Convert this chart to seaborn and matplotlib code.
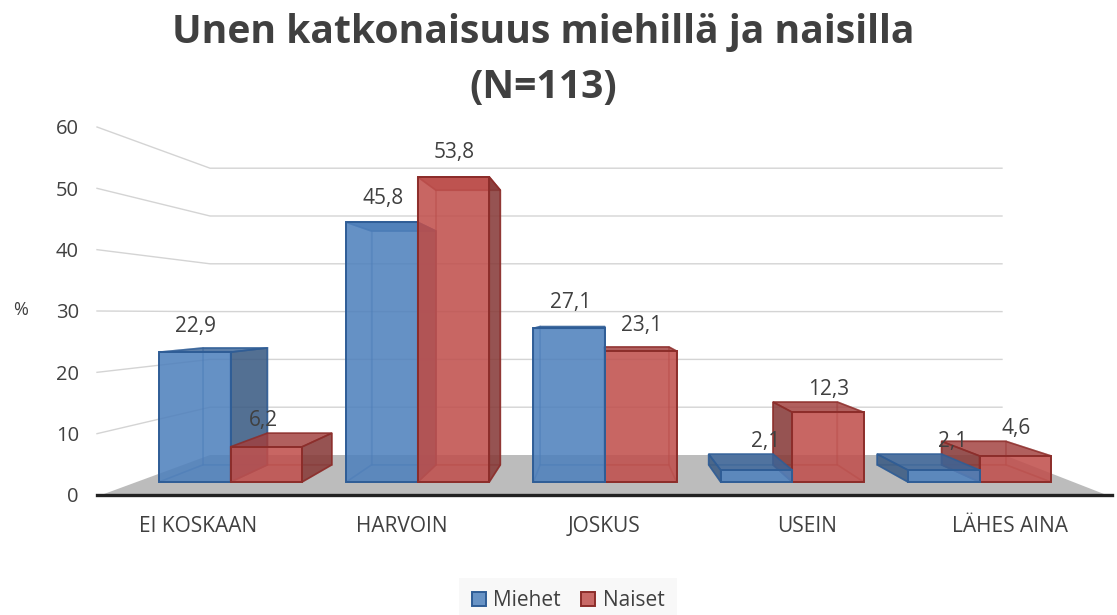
import matplotlib
matplotlib.use("Agg")
import matplotlib.pyplot as plt
import pandas as pd
import seaborn as sns
from matplotlib.colors import to_rgba
from matplotlib.patches import Polygon

categories = ["EI KOSKAAN", "HARVOIN", "JOSKUS", "USEIN", "LÄHES AINA"]
miehet = [22.9, 45.8, 27.1, 2.1, 2.1]
naiset = [6.2, 53.8, 23.1, 12.3, 4.6]
y_ticks = [0, 10, 20, 30, 40, 50, 60]
series_names = ["Miehet", "Naiset"]

W, H = 1117, 615
FONT = "Open Sans"
TEXT = "#404040"
face = {"Miehet": "#4f81bd", "Naiset": "#c0504d"}
edge = {"Miehet": "#2f5d96", "Naiset": "#8c2d2a"}
top_c = {"Miehet": "#3a6498", "Naiset": "#a03f3d"}
side_c = {"Miehet": "#3a5a82", "Naiset": "#863a38"}

# pixel geometry of the fake 3D box
LEFT, RIGHT, AXIS_Y, AXIS_TOP = 97, 1112, 495, 127
BASE_Y, PX_PER_UNIT, GROUP0_X, GROUP_STEP = 482, 5.67, 230.5, 187.25
DEPTH = 0.9
VX = (600 - GROUP0_X) / GROUP_STEP
VY = (BASE_Y - 310) / PX_PER_UNIT


def px_axes(fig, left, right, top, bottom):
    return fig.add_axes([left / W, 1 - bottom / H, (right - left) / W, (bottom - top) / H])


def back(p):
    return (VX + DEPTH * (p[0] - VX), VY + DEPTH * (p[1] - VY))


def draw_box(ax, bar, name, z):
    x0, x1 = bar.get_x(), bar.get_x() + bar.get_width()
    v = bar.get_height()
    fl, fr, tl, tr = (x0, 0), (x1, 0), (x0, v), (x1, v)
    bl, br, btl, btr = back(fl), back(fr), back(tl), back(tr)

    def face_poly(pts, color, alpha, edge_alpha):
        ax.add_patch(Polygon(pts, closed=True, facecolor=to_rgba(color, alpha),
                             edgecolor=to_rgba(edge[name], edge_alpha), lw=1.2, zorder=z))

    # hidden faces are only seen through the front
    face_poly([bl, br, btr, btl], face[name], 0.15, 0.3)
    face_poly([fl, fr, br, bl], face[name], 0.15, 0.3)
    right_seen = br[0] > x1
    left_seen = bl[0] < x0
    if not left_seen:
        face_poly([fl, tl, btl, bl], face[name], 0.15, 0.3)
    if not right_seen:
        face_poly([fr, tr, btr, br], face[name], 0.15, 0.3)
    face_poly([tl, tr, btr, btl], top_c[name], 0.8, 0.8)
    if left_seen:
        face_poly([fl, tl, btl, bl], side_c[name], 0.85, 0.9)
    if right_seen:
        face_poly([fr, tr, btr, br], side_c[name], 0.85, 0.9)
    bar.set_zorder(z + 0.5)
    return max(v, btl[1])


df = pd.DataFrame({
    "kategoria": categories * 2,
    "osuus": miehet + naiset,
    "sukupuoli": [series_names[0]] * 5 + [series_names[1]] * 5,
})

fig = plt.figure(figsize=(W / 100, H / 100), dpi=100, facecolor="white")
plt.rcParams["font.family"] = [FONT, "DejaVu Sans"]

# walls and floor, in pixels
bg = fig.add_axes([0, 0, 1, 1])
bg.set_xlim(0, W)
bg.set_ylim(H, 0)
bg.axis("off")
bg.add_patch(Polygon([(104, 494), (210, 455), (1004, 455), (1104, 494)], facecolor="#bcbcbc", edgecolor="none"))
for t in y_ticks[1:]:
    front_y = AXIS_Y - t * (AXIS_Y - AXIS_TOP) / 60
    back_y = 455 - t * 4.78
    bg.plot([LEFT, 210, 1002], [front_y, back_y, back_y], color="#d4d4d4", lw=1)

# the axis with its labels
front = px_axes(fig, LEFT, RIGHT, AXIS_TOP, AXIS_Y)
front.patch.set_alpha(0)
front.set_xlim(-0.5, 4.5)
front.set_ylim(0, 60)
front.set_xticks(range(5))
front.set_xticklabels(categories, fontsize=15, color=TEXT)
front.tick_params(axis="x", length=0, pad=15)
front.set_yticks(y_ticks)
front.set_yticklabels([str(t) for t in y_ticks], fontsize=14.5, color=TEXT)
front.tick_params(axis="y", length=0, pad=13)
for s in ["top", "left", "right"]:
    front.spines[s].set_visible(False)
front.spines["bottom"].set_linewidth(2.4)
front.spines["bottom"].set_color("#222222")

# bars
ax = px_axes(fig, LEFT, RIGHT, AXIS_TOP, AXIS_Y)
ax.patch.set_alpha(0)
sns.barplot(data=df, x="kategoria", y="osuus", hue="sukupuoli", order=categories,
            hue_order=series_names, palette=face, width=0.764, gap=0, saturation=1, ax=ax)
ax.set_xlim((LEFT - GROUP0_X) / GROUP_STEP, (RIGHT - GROUP0_X) / GROUP_STEP)
ax.set_ylim((BASE_Y - AXIS_Y) / PX_PER_UNIT, (BASE_Y - AXIS_TOP) / PX_PER_UNIT)
ax.axis("off")

bars = []
for name, container in zip(series_names, ax.containers):
    for bar in container:
        bars.append((name, bar))
# boxes furthest from the vanishing point go first
bars.sort(key=lambda b: -abs(b[1].get_x() + b[1].get_width() / 2 - VX))

nudge = {6.2: -4, 2.1: 8}
for i, (name, bar) in enumerate(bars):
    top = draw_box(ax, bar, name, 3 + i)
    bar.set_facecolor(to_rgba(face[name], 0.85))
    bar.set_edgecolor(edge[name])
    bar.set_linewidth(1.4)
    v = bar.get_height()
    lift = 13 if v < 15 else 21 if v < 25 else 24
    ax.annotate(f"{v:.1f}".replace(".", ","),
                xy=(bar.get_x() + bar.get_width() / 2, top),
                xytext=((nudge.get(v, 0) + 1) * 0.72, lift * 0.72),
                textcoords="offset points", ha="center", va="center",
                fontsize=15, color=TEXT, zorder=50)

handles, labels = ax.get_legend_handles_labels()
for h, name in zip(handles, series_names):
    h.set_facecolor(to_rgba(face[name], 0.85))
    h.set_edgecolor(edge[name])
    h.set_linewidth(1.4)
leg = ax.legend(handles, labels, ncol=2, loc="center", bbox_to_anchor=(568 / W, 1 - 601 / H),
                bbox_transform=fig.transFigure, frameon=True, facecolor="#f8f8f8", edgecolor="none",
                fancybox=False, framealpha=1, fontsize=15, handlelength=0.67, handleheight=0.67,
                handletextpad=0.35, columnspacing=1.0, borderpad=0.6, labelcolor=TEXT, title=None)

fig.text(21 / W, 1 - 310 / H, "%", fontsize=13, color=TEXT, ha="center", va="center")
fig.text(543 / W, 1 - 60 / H, "Unen katkonaisuus miehillä ja naisilla\n(N=113)",
         fontsize=28.2, fontweight="bold", color=TEXT, ha="center", va="center", linespacing=1.55)

fig.savefig("out.png", dpi=100)
